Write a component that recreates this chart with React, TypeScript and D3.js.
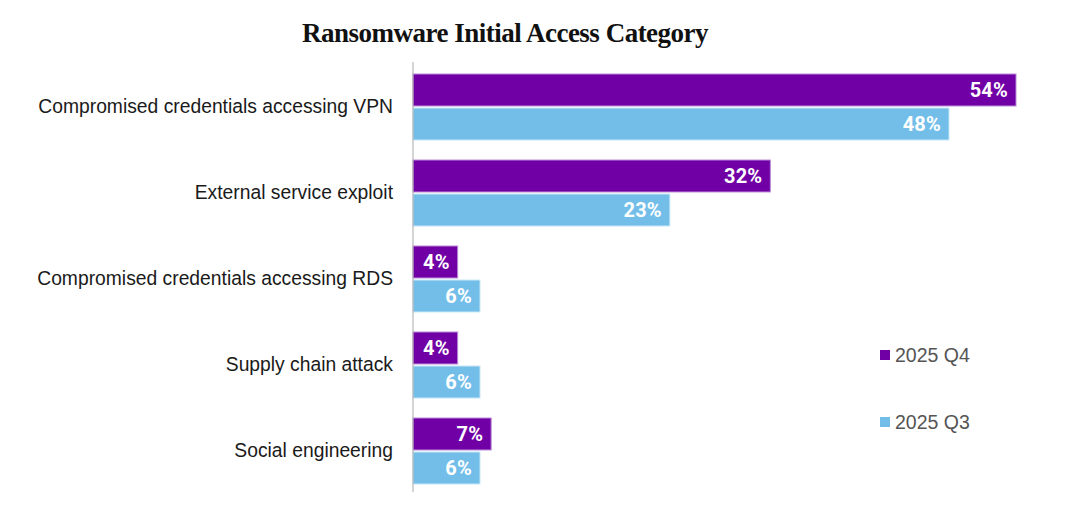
import { useEffect, useRef } from "react";
import * as d3 from "d3";

const categories = [
  "Compromised credentials accessing VPN",
  "External service exploit",
  "Compromised credentials accessing RDS",
  "Supply chain attack",
  "Social engineering",
];
const seriesNames = ["2025 Q4", "2025 Q3"];
const q4Values = [54, 32, 4, 4, 7];
const q3Values = [48, 23, 6, 6, 6];
const colors = ["#7000a5", "#73bee9"];

const width = 1089;
const height = 508;

export default function App() {
  const svgRef = useRef<SVGSVGElement>(null);

  useEffect(() => {
    document.body.style.margin = "0";
    const svg = d3.select(svgRef.current);
    svg.selectAll("*").remove();

    const x = d3.scaleLinear().domain([0, 54]).range([413, 1016]);

    const y = d3.scaleBand()
      .domain(categories)
      .range([64, 494])
      .paddingInner(0.2326)
      .paddingOuter(0.1163);

    const sub = d3.scaleBand()
      .domain(seriesNames)
      .range([0, y.bandwidth()])
      .paddingInner(0.06);

    // title
    svg.append("text")
      .attr("x", 505)
      .attr("y", 42)
      .attr("text-anchor", "middle")
      .attr("font-family", "Liberation Serif, serif")
      .attr("font-weight", "bold")
      .attr("font-size", 27)
      .attr("letter-spacing", -0.5)
      .attr("fill", "#111")
      .text("Ransomware Initial Access Category");

    const data = categories.map((c, i) => ({
      name: c,
      vals: [q4Values[i], q3Values[i]],
    }));

    const groups = svg.append("g")
      .selectAll("g")
      .data(data)
      .join("g")
      .attr("transform", (d) => `translate(0, ${y(d.name)})`);

    groups.selectAll("rect")
      .data((d) => d.vals.map((v, j) => ({ v, j })))
      .join("rect")
      .attr("x", x(0))
      .attr("y", (d) => sub(seriesNames[d.j])!)
      .attr("width", (d) => x(d.v) - x(0))
      .attr("height", sub.bandwidth())
      .attr("fill", (d) => colors[d.j])
      .attr("stroke", (d) => (d.j === 0 ? "#b98ad6" : "#c7e6f7"))
      .attr("stroke-width", 1);

    groups.selectAll("text.val")
      .data((d) => d.vals.map((v, j) => ({ v, j })))
      .join("text")
      .attr("class", "val")
      .attr("x", (d) => x(d.v) - 8)
      .attr("y", (d) => sub(seriesNames[d.j])! + sub.bandwidth() / 2)
      .attr("dy", "0.36em")
      .attr("text-anchor", "end")
      .attr("font-family", "Roboto, sans-serif")
      .attr("font-weight", "bold")
      .attr("font-size", 20)
      .attr("letter-spacing", 0.2)
      .attr("fill", "#fff")
      .text((d) => `${d.v}%`);

    // category labels
    svg.append("g")
      .selectAll("text")
      .data(categories)
      .join("text")
      .attr("x", 393)
      .attr("y", (d) => y(d)! + y.bandwidth() / 2 - 1)
      .attr("dy", "0.36em")
      .attr("text-anchor", "end")
      .attr("font-family", "Liberation Sans, Arial, sans-serif")
      .attr("font-size", 19.3)
      .attr("fill", "#1a1a1a")
      .text((d) => d);

    // axis line
    svg.append("line")
      .attr("x1", x(0))
      .attr("x2", x(0))
      .attr("y1", 62)
      .attr("y2", 492)
      .attr("stroke", "#aaa")
      .attr("stroke-width", 1);

    // legend
    const legend = svg.append("g")
      .selectAll("g")
      .data(seriesNames)
      .join("g")
      .attr("transform", (d, i) => `translate(880, ${355 + i * 67})`);

    legend.append("rect")
      .attr("x", 0)
      .attr("y", -5)
      .attr("width", 10)
      .attr("height", 10)
      .attr("fill", (d, i) => colors[i]);

    legend.append("text")
      .attr("x", 15)
      .attr("y", 0)
      .attr("dy", "0.36em")
      .attr("font-family", "Liberation Sans, Arial, sans-serif")
      .attr("font-size", 19.5)
      .attr("fill", "#555")
      .text((d) => d);
  }, []);

  return <svg ref={svgRef} width={width} height={height} style={{ display: "block" }} />;
}
